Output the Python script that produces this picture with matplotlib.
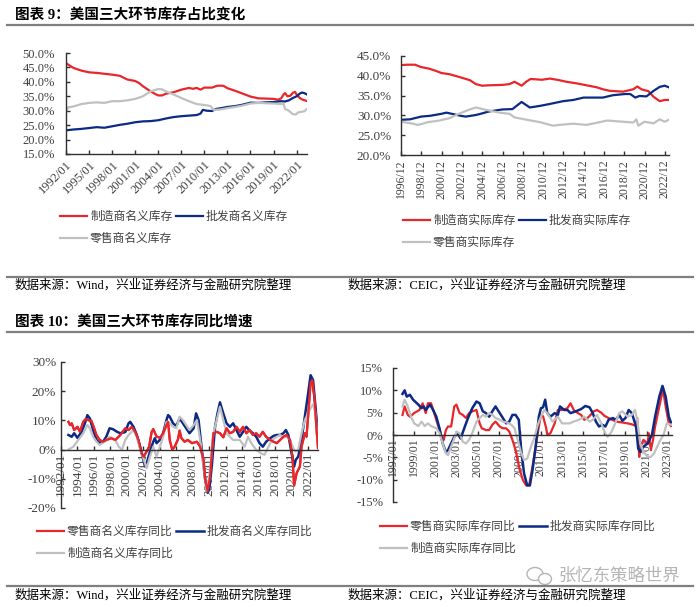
import matplotlib
matplotlib.use("Agg")
import matplotlib.pyplot as plt
from matplotlib.lines import Line2D
from matplotlib.patches import Ellipse
from matplotlib.ticker import FuncFormatter

# ---------------- data ----------------
# Chart 1: nominal inventory share (%)
c1_mfg_t = [1992.0, 1992.5, 1993.0, 1994.0, 1995.0, 1996.0, 1997.0, 1998.0, 1999.0, 1999.6, 2000.0, 2001.0, 2001.5,
            2002.0, 2003.0, 2003.6, 2004.0, 2004.5, 2005.0, 2006.0, 2007.0, 2008.0, 2008.5, 2009.0, 2009.5, 2010.0,
            2011.0, 2011.6, 2012.0, 2012.5, 2013.0, 2014.0, 2015.0, 2016.0, 2017.0, 2018.0, 2019.0, 2019.6, 2020.0,
            2020.3, 2020.5, 2020.8, 2021.2, 2021.5, 2021.8, 2022.0, 2022.4, 2022.8, 2023.3]
c1_mfg_v = [46.5, 45.6, 44.8, 43.9, 43.3, 43.1, 42.8, 42.5, 42.1, 41.3, 40.8, 40.3, 39.6,
            38.5, 36.7, 35.8, 35.3, 35.3, 35.9, 36.4, 37.3, 37.9, 37.6, 37.9, 37.3, 38.0,
            38.0, 38.6, 38.7, 38.6, 37.8, 36.9, 35.9, 34.9, 34.3, 34.2, 34.1, 33.8, 34.3,
            35.6, 36.1, 35.0, 35.2, 36.2, 36.5, 35.6, 34.4, 33.8, 33.4]
c1_whl_t = [1992.0, 1993.0, 1994.0, 1995.0, 1996.0, 1997.0, 1998.0, 1999.0, 2000.0, 2001.0, 2002.0, 2003.0, 2004.0,
            2005.0, 2006.0, 2007.0, 2008.0, 2009.0, 2009.5, 2009.8, 2010.3, 2011.0, 2011.5, 2012.0, 2013.0, 2014.0,
            2015.0, 2016.0, 2017.0, 2018.0, 2019.0, 2020.0, 2020.5, 2021.0, 2021.5, 2022.0, 2022.4, 2022.7, 2023.0,
            2023.3]
c1_whl_v = [23.2, 23.5, 23.7, 24.0, 24.3, 24.1, 24.6, 25.1, 25.5, 26.0, 26.3, 26.4, 26.7,
            27.3, 27.8, 28.1, 28.3, 28.5, 29.0, 30.3, 30.0, 29.9, 30.6, 30.8, 31.3, 31.6,
            32.1, 32.8, 32.7, 32.9, 33.0, 33.3, 33.2, 33.6, 34.4, 35.0, 35.9, 36.3, 36.1,
            35.7]
c1_ret_t = [1992.0, 1992.3, 1993.0, 1994.0, 1995.0, 1996.0, 1997.0, 1998.0, 1999.0, 2000.0, 2001.0, 2002.0, 2003.0,
            2004.0, 2004.5, 2005.0, 2006.0, 2007.0, 2008.0, 2009.0, 2010.0, 2010.8, 2011.2, 2012.0, 2013.0, 2014.0,
            2015.0, 2016.0, 2017.0, 2018.0, 2019.0, 2020.0, 2020.3, 2020.5, 2021.0, 2021.5, 2021.9, 2022.2, 2023.0,
            2023.3]
c1_ret_v = [29.8, 31.2, 31.5, 32.3, 32.7, 32.9, 32.7, 33.3, 33.3, 33.6, 34.1, 35.0, 36.7,
            37.5, 37.4, 36.7, 35.6, 34.4, 33.3, 32.3, 32.0, 31.6, 30.3, 30.4, 30.9, 31.3,
            31.8, 32.5, 32.7, 32.6, 32.5, 32.3, 32.4, 30.6, 30.0, 28.8, 28.7, 29.4, 29.8,
            30.5]

# Chart 2: real inventory share (%)
c2_mfg_t = [1996.92, 1997.5, 1998.3, 1998.9, 1999.7, 2000.4, 2000.9, 2001.7, 2002.8, 2003.7, 2004.3, 2004.9, 2005.6,
            2006.9, 2007.6, 2008.1, 2008.8, 2009.3, 2009.7, 2010.8, 2011.6, 2012.5, 2013.2, 2014.2, 2015.2, 2016.2,
            2016.8, 2017.5, 2018.8, 2019.8, 2020.2, 2020.6, 2021.3, 2021.8, 2022.4, 2022.9, 2023.3]
c2_mfg_v = [42.7, 42.8, 42.8, 42.2, 41.8, 41.2, 40.7, 40.4, 39.6, 38.9, 37.9, 37.5, 37.6,
            37.7, 37.9, 38.5, 37.5, 38.6, 39.2, 39.0, 39.3, 38.9, 38.5, 38.1, 37.6, 37.1,
            36.6, 36.2, 36.0, 36.6, 37.3, 36.6, 36.1, 34.7, 33.6, 33.9, 33.9]
c2_whl_t = [1996.92, 1997.8, 1998.9, 1999.8, 2000.9, 2001.4, 2002.1, 2002.8, 2003.3, 2004.3, 2004.9, 2005.6, 2006.9,
            2007.9, 2008.8, 2009.6, 2010.6, 2011.6, 2012.9, 2013.9, 2014.9, 2016.8, 2017.8, 2019.0, 2019.5, 2020.0,
            2020.4, 2021.1, 2021.8, 2022.4, 2022.9, 2023.3]
c2_whl_v = [28.9, 29.0, 29.7, 29.9, 30.4, 30.7, 30.3, 29.9, 29.7, 30.1, 30.5, 31.0, 31.5,
            31.6, 33.4, 32.0, 32.4, 32.9, 33.6, 33.9, 34.5, 34.5, 35.1, 35.4, 35.4, 34.5,
            34.9, 34.8, 36.2, 37.2, 37.5, 37.1]
c2_ret_t = [1996.92, 1997.9, 1998.6, 1999.6, 2000.7, 2001.7, 2002.7, 2003.7, 2004.3, 2005.3, 2006.6, 2007.6, 2008.1,
            2009.3, 2010.6, 2011.9, 2012.5, 2013.9, 2015.2, 2016.5, 2017.2, 2018.8, 2019.8, 2020.1, 2020.3, 2020.9,
            2021.8, 2022.4, 2022.9, 2023.3]
c2_ret_v = [28.4, 28.0, 27.6, 28.3, 28.7, 29.3, 30.5, 31.5, 32.0, 31.4, 30.7, 30.4, 29.5,
            28.9, 28.3, 27.4, 27.6, 27.9, 27.6, 28.3, 28.7, 28.4, 28.2, 29.0, 27.4, 28.4,
            28.0, 29.0, 28.4, 28.9]

# Chart 3: nominal inventory YoY (%)
c3_ret_t = [1992.9, 1993.1, 1993.3, 1993.6, 1994.0, 1994.3, 1994.7, 1995.0, 1995.3, 1995.7, 1996.1, 1996.3, 1996.7,
            1997.1, 1997.5, 1998.1, 1998.6, 1999.2, 1999.8, 2000.2, 2000.6, 2001.0, 2001.4, 2001.8, 2002.0, 2002.4,
            2002.7, 2003.0, 2003.2, 2003.6, 2004.0, 2004.4, 2004.8, 2005.0, 2005.2, 2005.5, 2005.8, 2006.2, 2006.4,
            2006.6, 2007.0, 2007.4, 2007.9, 2008.5, 2008.9, 2009.3, 2009.5, 2009.8, 2010.1, 2010.5, 2010.9, 2011.3,
            2011.7, 2012.1, 2012.5, 2012.9, 2013.3, 2013.7, 2014.1, 2014.5, 2014.9, 2015.3, 2015.7, 2016.1, 2016.5,
            2016.9, 2017.4, 2017.8, 2018.2, 2018.6, 2019.0, 2019.4, 2019.8, 2020.1, 2020.3, 2020.6, 2021.0, 2021.2,
            2021.4, 2021.6, 2021.8, 2022.0, 2022.3, 2022.5, 2022.8, 2023.0, 2023.2]
c3_ret_v = [9.5, 8.4, 9.0, 6.7, 7.8, 6.1, 9.5, 10.5, 10.1, 9.8, 6.7, 5.0, 3.3,
            2.7, 3.3, 3.9, 3.3, 5.0, 7.3, 6.7, 7.8, 6.1, 3.3, -1.3, -2.4, -0.7,
            1.0, 6.0, 7.0, 4.5, 4.0, 5.5, 8.4, 9.5, 3.3, 0.0, 1.0, 3.5, 6.5,
            4.0, 2.7, 3.3, 2.2, 2.7, 1.0, -3.5, -10.0, -14.3, -9.2, 5.6, 6.1, 5.6,
            4.2, 7.3, 5.6, 6.1, 7.8, 6.1, 7.8, 5.6, 6.7, 5.0, 5.6, 4.4, 6.1,
            4.4, 3.3, 2.7, 2.2, 3.3, 4.4, 5.0, 3.3, -2.4, -12.3, -8.1, -5.8, 1.0,
            3.3, 5.6, 4.4, 11.3, 23.0, 23.8, 16.9, 7.8, 0.5]
c3_whl_t = [1992.9, 1993.3, 1993.6, 1994.0, 1994.5, 1994.9, 1995.2, 1995.5, 1995.9, 1996.3, 1996.7, 1997.1, 1997.5,
            1997.9, 1998.3, 1998.8, 1999.2, 1999.8, 2000.2, 2000.4, 2000.8, 2001.2, 2001.6, 2002.0, 2002.2, 2002.4,
            2002.8, 2003.2, 2003.4, 2003.6, 2004.0, 2004.4, 2004.8, 2005.0, 2005.2, 2005.6, 2006.0, 2006.4, 2006.8,
            2007.2, 2007.6, 2008.1, 2008.4, 2008.7, 2009.1, 2009.5, 2009.8, 2010.0, 2010.3, 2010.7, 2011.0, 2011.3,
            2011.7, 2012.1, 2012.5, 2012.9, 2013.3, 2013.7, 2014.1, 2014.5, 2014.9, 2015.3, 2015.7, 2016.1, 2016.5,
            2016.9, 2017.4, 2017.8, 2018.2, 2018.6, 2019.0, 2019.3, 2019.6, 2020.0, 2020.3, 2020.5, 2020.8, 2021.2,
            2021.6, 2022.0, 2022.3, 2022.6, 2023.0, 2023.2]
c3_whl_v = [5.0, 4.4, 5.6, 4.0, 6.1, 9.0, 11.8, 10.7, 6.7, 3.3, 2.2, 2.7, 4.4,
            7.3, 7.0, 6.1, 5.6, 6.0, 9.0, 9.5, 7.8, 5.0, 1.0, -3.5, -5.8, -4.7,
            -0.7, 2.7, 3.9, 2.2, 3.3, 5.6, 10.1, 11.8, 11.3, 9.0, 8.1, 10.7, 9.0,
            7.3, 5.6, 7.3, 12.4, 10.1, -0.1, -10.3, -14.8, -13.5, -5.8, 7.8, 12.4, 16.2,
            12.4, 9.0, 7.8, 9.0, 6.7, 4.4, 6.1, 7.8, 6.5, 5.6, 4.4, 2.2, 1.0,
            2.7, 3.9, 4.7, 5.0, 5.0, 5.6, 6.7, 5.0, -1.3, -5.8, -3.5, -2.4, 3.3,
            11.3, 19.2, 25.5, 23.8, 11.3, 3.9]
c3_mfg_t = [1992.9, 1993.5, 1994.1, 1994.7, 1995.2, 1995.5, 1995.9, 1996.3, 1996.7, 1997.3, 1997.9, 1998.6, 1999.0,
            1999.4, 1999.8, 2000.2, 2000.8, 2001.2, 2001.6, 2002.0, 2002.4, 2002.8, 2003.2, 2003.6, 2004.0, 2004.4,
            2004.8, 2005.2, 2005.6, 2006.0, 2006.4, 2006.8, 2007.2, 2007.6, 2008.1, 2008.5, 2008.9, 2009.3, 2009.7,
            2010.1, 2010.5, 2010.9, 2011.3, 2011.7, 2012.1, 2012.5, 2012.9, 2013.7, 2014.3, 2014.7, 2015.1, 2015.7,
            2016.3, 2016.7, 2017.2, 2017.6, 2018.2, 2018.6, 2019.0, 2019.4, 2019.8, 2020.2, 2020.5, 2020.8, 2021.2,
            2021.6, 2022.0, 2022.4, 2022.6, 2022.9, 2023.2]
c3_mfg_v = [0.0, 1.0, 3.3, 5.6, 8.4, 7.3, 4.4, 2.7, 1.6, 2.7, 4.4, 3.3, 1.0,
            0.0, 3.3, 5.0, 6.7, 4.4, -0.1, -3.0, -6.4, -2.4, 1.0, -2.4, 1.0, 4.4,
            9.5, 9.0, 7.8, 7.3, 11.3, 10.1, 8.4, 6.7, 8.4, 10.1, 3.3, -5.8, -14.3,
            -6.9, 5.6, 10.1, 14.7, 10.1, 5.6, 4.4, 3.3, 3.3, 1.0, 4.4, 2.2, -0.1,
            -1.3, -1.8, 1.0, 3.3, 4.4, 5.0, 4.2, 4.4, 3.3, 0.5, -0.7, 0.0, 5.6,
            10.1, 12.4, 14.7, 15.5, 12.4, 1.0]

# Chart 4: real inventory YoY (%)
c4_ret_t = [1997.9, 1998.1, 1998.4, 1998.6, 1999.0, 1999.5, 1999.8, 2000.1, 2000.3, 2000.6, 2000.9, 2001.2, 2001.6,
            2001.8, 2002.0, 2002.2, 2002.5, 2002.8, 2003.0, 2003.3, 2003.6, 2003.9, 2004.2, 2004.5, 2004.9, 2005.2,
            2005.4, 2005.8, 2006.1, 2006.4, 2006.7, 2007.1, 2007.4, 2007.7, 2008.0, 2008.3, 2008.6, 2009.0, 2009.3,
            2009.6, 2009.9, 2010.2, 2010.5, 2010.8, 2011.0, 2011.2, 2011.5, 2011.6, 2011.9, 2012.3, 2012.6, 2013.0,
            2013.5, 2013.8, 2014.1, 2014.5, 2014.8, 2015.1, 2015.4, 2015.7, 2016.0, 2016.3, 2016.7, 2017.0, 2017.4,
            2018.1, 2018.7, 2019.2, 2019.6, 2020.0, 2020.1, 2020.3, 2020.4, 2020.7, 2021.1, 2021.2, 2021.4, 2021.6,
            2021.8, 2022.2, 2022.5, 2022.6, 2022.8, 2023.1, 2023.3]
c4_ret_v = [4.5, 6.4, 4.5, 4.1, 4.9, 5.6, 7.1, 4.9, 7.1, 7.1, 4.9, 2.6, -0.4,
            -1.1, 1.1, 1.9, 1.9, 6.4, 6.8, 4.9, 4.5, 3.8, 4.9, 5.3, 5.6, 2.6,
            1.5, 1.1, 1.1, 2.3, 3.0, 1.9, 1.5, 1.5, 0.8, -1.1, -3.4, -7.9, -10.1,
            -11.3, -11.0, -7.1, -2.6, 1.9, 4.5, 4.2, 1.5, 0.0, 0.4, 2.6, 5.6, 5.6,
            6.0, 7.1, 5.6, 4.9, 4.5, 3.4, 3.8, 4.5, 5.3, 5.6, 5.0, 4.3, 3.8,
            3.0, 2.8, 2.6, 2.4, 2.0, 3.8, -4.9, -2.6, -1.1, -1.9, 0.4, -3.4, -1.1,
            1.9, 6.4, 9.8, 9.4, 6.4, 2.6, 2.0]
c4_whl_t = [1997.9, 1998.1, 1998.3, 1998.6, 1998.9, 1999.4, 1999.7, 1999.9, 2000.1, 2000.5, 2000.8, 2001.1, 2001.4,
            2001.7, 2002.0, 2002.2, 2002.5, 2002.8, 2003.1, 2003.4, 2003.8, 2004.1, 2004.5, 2004.9, 2005.2, 2005.5,
            2005.8, 2006.1, 2006.4, 2006.7, 2007.1, 2007.4, 2007.7, 2008.0, 2008.3, 2008.6, 2008.9, 2009.1, 2009.4,
            2009.7, 2009.95, 2010.2, 2010.5, 2010.8, 2011.0, 2011.2, 2011.4, 2011.6, 2011.9, 2012.3, 2012.6, 2012.8,
            2013.2, 2013.5, 2013.8, 2014.3, 2014.8, 2015.2, 2015.6, 2015.9, 2016.2, 2016.5, 2016.8, 2017.1, 2017.4,
            2017.8, 2018.1, 2018.4, 2018.7, 2019.0, 2019.3, 2019.6, 2020.0, 2020.2, 2020.4, 2020.7, 2021.1, 2021.5,
            2021.8, 2022.2, 2022.5, 2022.8, 2023.1, 2023.3]
c4_whl_v = [9.2, 10.0, 8.6, 9.0, 7.9, 6.8, 6.0, 6.4, 5.6, 6.8, 5.6, 4.1, 1.5,
            -1.9, -3.8, -3.4, -1.9, -0.4, 0.4, -0.8, 1.9, 3.8, 6.0, 7.5, 7.1, 5.3,
            4.9, 4.1, 5.3, 6.4, 4.9, 3.8, 2.6, 3.0, 4.5, 4.5, 3.4, -2.6, -8.6,
            -11.3, -11.3, -7.9, -2.6, 4.1, 6.0, 6.2, 7.9, 4.9, 4.1, 4.9, 4.5, 6.4,
            5.6, 5.6, 4.9, 5.3, 5.8, 6.5, 6.2, 4.9, 3.0, 1.9, 2.3, 1.9, 3.4,
            3.8, 3.4, 4.5, 3.2, 3.8, 5.6, 4.9, 1.9, -3.0, -3.8, -2.6, -1.9, 0.0,
            4.1, 8.6, 11.0, 8.6, 4.1, 2.8]
c4_mfg_t = [1997.9, 1998.1, 1998.4, 1998.7, 1999.0, 1999.4, 1999.7, 2000.0, 2000.3, 2000.6, 2001.1, 2001.4, 2001.7,
            2002.0, 2002.2, 2002.5, 2002.8, 2003.0, 2003.3, 2003.6, 2003.9, 2004.2, 2004.5, 2004.9, 2005.2, 2005.5,
            2005.8, 2006.1, 2006.4, 2006.7, 2007.1, 2007.4, 2007.8, 2008.2, 2008.5, 2008.8, 2009.1, 2009.4, 2009.7,
            2010.0, 2010.4, 2010.7, 2011.0, 2011.3, 2011.6, 2012.1, 2012.6, 2013.0, 2013.7, 2014.1, 2014.6, 2015.1,
            2015.6, 2015.9, 2016.3, 2016.7, 2017.0, 2017.3, 2017.6, 2017.9, 2018.4, 2018.7, 2019.2, 2019.6, 2019.9,
            2020.1, 2020.4, 2020.7, 2021.1, 2021.4, 2021.7, 2022.0, 2022.3, 2022.6, 2022.9, 2023.3]
c4_mfg_v = [6.4, 7.9, 6.4, 4.1, 2.6, 2.0, 3.0, 2.0, 2.6, 2.0, 1.5, 0.4, -1.9,
            -4.1, -4.5, -2.6, -0.8, 0.8, 0.4, -1.5, -1.9, -1.1, 0.4, 3.0, 3.8, 4.5,
            4.1, 4.9, 4.5, 3.8, 3.4, 3.0, 2.8, 2.3, 1.5, -1.1, -3.8, -5.6, -5.3,
            -3.0, -0.4, 2.3, 4.1, 5.6, 4.9, 3.0, 4.1, 2.6, 2.6, 3.0, 3.4, 4.1,
            3.0, 3.4, 4.5, 2.6, 0.8, -0.4, 0.4, 1.9, 4.9, 5.3, 4.1, 4.5, 5.6,
            3.4, -1.9, -3.8, -4.9, -4.9, -4.1, -2.6, -1.1, 0.0, 2.6, 2.3]

# ticks and labels
c1_ticks = [1992, 1995, 1998, 2001, 2004, 2007, 2010, 2013, 2016, 2019, 2022]
c1_labels = ["1992/01", "1995/01", "1998/01", "2001/01", "2004/01", "2007/01", "2010/01", "2013/01", "2016/01",
             "2019/01", "2022/01"]
c2_ticks = [1996.92 + 2 * i for i in range(14)]
c2_labels = ["%d/12" % (1996 + 2 * i) for i in range(14)]
c3_ticks = [1992 + 2 * i for i in range(16)]
c3_labels = ["%d/01" % (1992 + 2 * i) for i in range(16)]
c4_ticks = [1997 + 2 * i for i in range(14)]
c4_labels = ["%d/01" % (1997 + 2 * i) for i in range(14)]

c1_names = ["制造商名义库存", "批发商名义库存", "零售商名义库存"]
c2_names = ["制造商实际库存", "批发商实际库存", "零售商实际库存"]
c3_names = ["零售商名义库存同比", "批发商名义库存同比", "制造商名义库存同比"]
c4_names = ["零售商实际库存同比", "批发商实际库存同比", "制造商实际库存同比"]

RED = "#E8262B"
BLUE = "#0B2A84"
GRAY = "#C0C0C0"
TXT = "#404040"
SPINE = "#303030"
SERIF = ["Liberation Serif", "Noto Sans CJK SC"]
CJK = ["Noto Sans CJK SC", "DejaVu Sans"]

W, H = 700, 607
fig = plt.figure(figsize=(7.0, 6.07), dpi=100)


def rect(l, t, r, b):
    return [l / W, 1 - b / H, (r - l) / W, (b - t) / H]


def fx(x):
    return x / W


def fy(y):
    return 1 - y / H


def style_axes(ax, fs):
    for s in ["top", "right"]:
        ax.spines[s].set_visible(False)
    for s in ["left", "bottom"]:
        ax.spines[s].set_color(SPINE)
        ax.spines[s].set_linewidth(1.0)
    ax.tick_params(direction="in", length=3, width=1, color=SPINE, labelcolor=TXT, labelsize=fs)
    for lab in ax.get_xticklabels() + ax.get_yticklabels():
        lab.set_fontfamily(SERIF)


def add_legend(ax, lines, names, x, y):
    h = [lines[0], lines[2], lines[1]]
    n = [names[0], names[2], names[1]]
    ax.legend(h, n, ncol=2, loc="upper left", bbox_to_anchor=(fx(x), fy(y)), bbox_transform=fig.transFigure,
              frameon=False, handlelength=2.3, handletextpad=0.25, columnspacing=0.3, borderpad=0,
              borderaxespad=0, labelspacing=0.75, prop={"family": CJK, "size": 8.5}, labelcolor=TXT)


# ---------- chart 1 ----------
ax1 = fig.add_axes(rect(66, 53, 307, 154))
l1 = ax1.plot(c1_mfg_t, c1_mfg_v, color=RED, lw=1.6)[0]
l2 = ax1.plot(c1_whl_t, c1_whl_v, color=BLUE, lw=1.6)[0]
l3 = ax1.plot(c1_ret_t, c1_ret_v, color=GRAY, lw=1.6)[0]
ax1.set_xlim(1992, 2023.35)
ax1.set_ylim(15, 50)
ax1.set_yticks(range(15, 51, 5))
ax1.yaxis.set_major_formatter(FuncFormatter(lambda v, p: "%.1f%%" % v))
ax1.set_xticks(c1_ticks)
ax1.set_xticklabels(c1_labels, rotation=45, ha="right", rotation_mode="anchor")
style_axes(ax1, 9)
ax1.tick_params(axis="y", pad=8)
add_legend(ax1, [l1, l2, l3], c1_names, 60, 210)

# ---------- chart 2 ----------
ax2 = fig.add_axes(rect(401, 56, 669, 155))
m1 = ax2.plot(c2_mfg_t, c2_mfg_v, color=RED, lw=1.6)[0]
m2 = ax2.plot(c2_whl_t, c2_whl_v, color=BLUE, lw=1.6)[0]
m3 = ax2.plot(c2_ret_t, c2_ret_v, color=GRAY, lw=1.6)[0]
ax2.set_xlim(1996.92, 2023.32)
ax2.set_ylim(20, 45)
ax2.set_yticks(range(20, 46, 5))
ax2.yaxis.set_major_formatter(FuncFormatter(lambda v, p: "%.1f%%" % v))
ax2.set_xticks(c2_ticks)
ax2.set_xticklabels(c2_labels, rotation=90)
style_axes(ax2, 9.5)
ax2.tick_params(axis="y", pad=7)
for lab in ax2.get_xticklabels():
    lab.set_fontsize(8.5)
add_legend(ax2, [m1, m2, m3], c2_names, 403, 214)

# ---------- chart 3 ----------
ax3 = fig.add_axes(rect(61, 362, 318, 508))
n1 = ax3.plot(c3_ret_t, c3_ret_v, color=RED, lw=1.6)[0]
n2 = ax3.plot(c3_whl_t, c3_whl_v, color=BLUE, lw=1.8)[0]
n3 = ax3.plot(c3_mfg_t, c3_mfg_v, color=GRAY, lw=1.6)[0]
ax3.plot(c3_ret_t, c3_ret_v, color=RED, lw=1.6)
ax3.set_xlim(1992, 2023.2)
ax3.set_ylim(-20, 30)
ax3.set_yticks(range(-20, 31, 10))
ax3.yaxis.set_major_formatter(FuncFormatter(lambda v, p: "%d%%" % v))
ax3.spines["bottom"].set_position(("data", 0))
ax3.set_xticks(c3_ticks)
ax3.set_xticklabels(c3_labels, rotation=90)
style_axes(ax3, 9.5)
ax3.tick_params(axis="x", pad=2)
add_legend(ax3, [n1, n2, n3], c3_names, 37, 525)

# ---------- chart 4 ----------
ax4 = fig.add_axes(rect(393, 368, 672, 502))
o1 = ax4.plot(c4_ret_t, c4_ret_v, color=RED, lw=1.6)[0]
o2 = ax4.plot(c4_whl_t, c4_whl_v, color=BLUE, lw=1.8)[0]
o3 = ax4.plot(c4_mfg_t, c4_mfg_v, color=GRAY, lw=1.6)[0]
ax4.set_xlim(1997, 2023.4)
ax4.set_ylim(-15, 15)
ax4.set_yticks(range(-15, 16, 5))
ax4.yaxis.set_major_formatter(FuncFormatter(lambda v, p: "%d%%" % v))
ax4.spines["bottom"].set_position(("data", 0))
ax4.set_xticks(c4_ticks)
ax4.set_xticklabels(c4_labels, rotation=90)
style_axes(ax4, 9)
ax4.tick_params(axis="x", pad=2, labelsize=8.5)
ax4.tick_params(axis="y", pad=7)
add_legend(ax4, [o1, o2, o3], c4_names, 380, 520)

# ---------- titles, rules, sources ----------
for yy in [25, 277, 332, 586]:
    fig.add_artist(Line2D([fx(7), fx(693)], [fy(yy), fy(yy)], transform=fig.transFigure, color="#7F7F7F", lw=1.6))

fig.text(fx(15), fy(15), "图表 9：美国三大环节库存占比变化", fontsize=10.5, fontweight="bold",
         family=SERIF, va="center", ha="left", color="#000000")
fig.text(fx(15), fy(323), "图表 10：美国三大环节库存同比增速", fontsize=10.5, fontweight="bold",
         family=SERIF, va="center", ha="left", color="#000000")
src_wind = "数据来源：Wind，兴业证券经济与金融研究院整理"
src_ceic = "数据来源：CEIC，兴业证券经济与金融研究院整理"
fig.text(fx(15), fy(285), src_wind, fontsize=9, family=SERIF, va="center", ha="left", color="#000000")
fig.text(fx(348), fy(285), src_ceic, fontsize=9, family=SERIF, va="center", ha="left", color="#000000")
fig.text(fx(15), fy(595), src_wind, fontsize=9, family=SERIF, va="center", ha="left", color="#000000")
fig.text(fx(348), fy(595), src_ceic, fontsize=9, family=SERIF, va="center", ha="left", color="#000000")

# watermark
fig.text(fx(558), fy(576), "张忆东策略世界", fontsize=12.5, family=CJK, va="center", ha="left", color="#B5B5B5")
fig.add_artist(Ellipse((fx(535), fy(574)), 16 / W, 13 / H, transform=fig.transFigure, fill=False,
                       ec="#B5B5B5", lw=1.0))
fig.add_artist(Ellipse((fx(545), fy(579)), 13 / W, 11 / H, transform=fig.transFigure, fill=True,
                       fc="white", ec="#B5B5B5", lw=1.0))

fig.savefig("out.png", dpi=100, facecolor="white")
